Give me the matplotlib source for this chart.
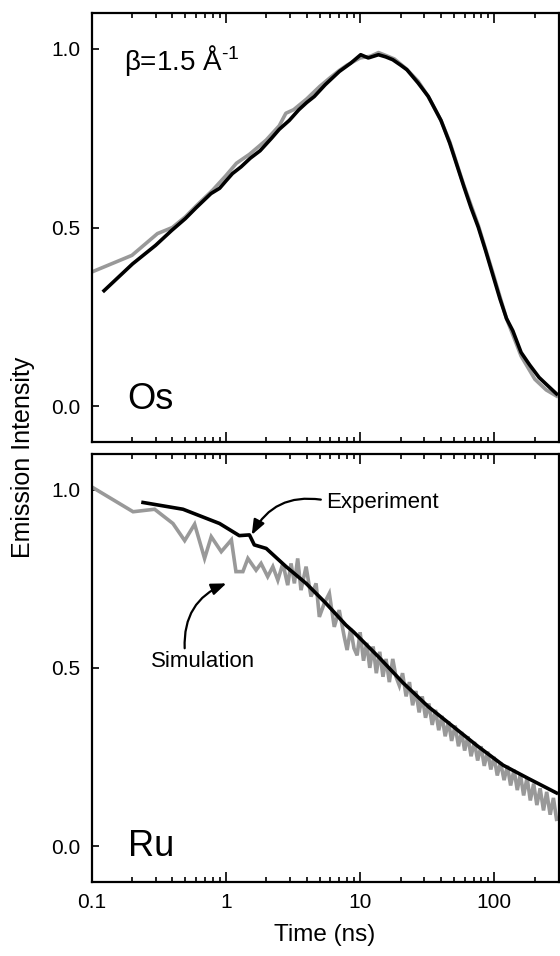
import matplotlib
matplotlib.use("Agg")
import matplotlib.pyplot as plt
from matplotlib.ticker import LogLocator, FixedLocator, FixedFormatter, NullFormatter

plt.rcParams['font.family'] = ['Liberation Sans', 'DejaVu Sans']
plt.rcParams['mathtext.fontset'] = 'custom'
plt.rcParams['mathtext.rm'] = 'Liberation Sans'
plt.rcParams['mathtext.default'] = 'regular'

# Os panel (top)
os_sim_t = [0.1, 0.2, 0.31, 0.4, 0.5, 0.6, 0.8, 1.0, 1.2, 1.5, 2.0, 2.5, 2.8, 3.2, 4.0,
            5.0, 6.0, 7.0, 8.0, 10, 12, 13.7, 16, 18, 22, 27, 32, 40, 46.5, 59, 76,
            97, 123, 158, 200, 243, 290]
os_sim_i = [0.375, 0.422, 0.483, 0.50, 0.53, 0.56, 0.605, 0.645, 0.68, 0.705, 0.745,
            0.785, 0.82, 0.83, 0.86, 0.895, 0.92, 0.94, 0.955, 0.975, 0.98, 0.99, 0.98,
            0.972, 0.945, 0.91, 0.868, 0.80, 0.74, 0.62, 0.505, 0.375, 0.245, 0.14,
            0.075, 0.045, 0.028]
os_exp_t = [0.124, 0.202, 0.30, 0.396, 0.5, 0.6, 0.775, 0.9, 1.0, 1.12, 1.3, 1.52, 1.8,
            2.19, 2.5, 2.97, 3.5, 4.0, 4.56, 5.5, 7.0, 8.5, 10.1, 11.5, 13.7, 15.5, 17.5,
            20, 22.3, 27, 32.2, 40, 46.5, 52, 59.3, 67, 75.8, 86, 96.8, 110, 123, 137,
            158, 183, 215, 243, 290]
os_exp_i = [0.323, 0.398, 0.45, 0.492, 0.525, 0.555, 0.595, 0.61, 0.63, 0.651, 0.67,
            0.694, 0.715, 0.75, 0.775, 0.80, 0.83, 0.85, 0.867, 0.90, 0.937, 0.96, 0.984,
            0.975, 0.984, 0.978, 0.970, 0.955, 0.942, 0.905, 0.867, 0.80, 0.736, 0.68,
            0.614, 0.555, 0.501, 0.435, 0.370, 0.30, 0.245, 0.211, 0.15, 0.115, 0.08,
            0.061, 0.034]

# Ru panel (bottom)
ru_sim_t = [0.1, 0.204, 0.295, 0.404, 0.494, 0.586, 0.695, 0.779, 0.925, 1.10, 1.19,
            1.34, 1.46, 1.68, 1.83, 2.05, 2.24, 2.44, 2.66, 2.89, 3.06, 3.24, 3.43, 3.63,
            3.96, 4.31, 4.70, 4.97, 5.41, 5.9, 6.42, 6.99, 7.62,
            8.0, 8.5, 9.0, 9.5, 10, 10.6, 11.2, 11.8, 12.5, 13.2, 14, 14.8, 15.6, 16.5,
            17.5, 18.5, 19.6, 20.7, 22, 23.3, 24.6, 26, 27.5, 29, 30.7, 32.5, 34.4, 36.4,
            38.5, 40.7, 43, 45.5, 48, 51, 54, 57, 60, 63.5, 67, 71, 75, 79.5, 84, 89, 94,
            99.5, 105, 111, 118, 125, 132, 140, 148, 156, 165, 175, 185, 196, 207, 219,
            232, 245, 260, 275, 290]
ru_sim_i = [1.008, 0.938, 0.945, 0.905, 0.857, 0.903, 0.807, 0.868, 0.826, 0.859, 0.770,
            0.770, 0.807, 0.774, 0.793, 0.756, 0.784, 0.746, 0.793, 0.732, 0.793, 0.737,
            0.807, 0.718, 0.784, 0.70, 0.737, 0.643, 0.681, 0.709, 0.615, 0.662, 0.587,
            0.550, 0.610, 0.555, 0.535, 0.600, 0.520, 0.570, 0.500, 0.560, 0.485,
            0.545, 0.475, 0.525, 0.460, 0.525, 0.475, 0.450, 0.485, 0.420, 0.460,
            0.395, 0.435, 0.375, 0.420, 0.360, 0.400, 0.340, 0.382, 0.325, 0.365,
            0.308, 0.350, 0.295, 0.338, 0.280, 0.320, 0.268, 0.308, 0.252, 0.292,
            0.240, 0.280, 0.225, 0.265, 0.215, 0.250, 0.198, 0.235, 0.185, 0.225,
            0.170, 0.214, 0.157, 0.202, 0.142, 0.192, 0.128, 0.175, 0.115, 0.162,
            0.100, 0.152, 0.088, 0.135, 0.075]
ru_exp_t = [0.242, 0.48, 0.898, 1.26, 1.50, 1.63, 2.0, 2.81, 3.96, 5.57, 7.84, 8.93,
            13.7, 21, 32.2, 49.4, 75.8, 116, 178, 290]
ru_exp_i = [0.964, 0.945, 0.905, 0.871, 0.873, 0.845, 0.835, 0.784, 0.737, 0.681, 0.62,
            0.601, 0.531, 0.457, 0.391, 0.335, 0.279, 0.227, 0.19, 0.149]

y_ticks = [0.0, 0.5, 1.0]
x_ticks = [0.1, 1, 10, 100]
x_labels = ['0.1', '1', '10', '100']

GRAY = '#999999'

fig = plt.figure(figsize=(5.6, 9.56), dpi=100)
ax1 = fig.add_axes([91.5 / 560, 1 - 441.7 / 956, 467 / 560, 428.4 / 956])
ax2 = fig.add_axes([91.5 / 560, 1 - 881.7 / 956, 467 / 560, 427.7 / 956])

ax1.plot(os_sim_t, os_sim_i, color=GRAY, lw=2.6)
ax1.plot(os_exp_t, os_exp_i, color='black', lw=2.6)
ax2.plot(ru_sim_t, ru_sim_i, color=GRAY, lw=2.6, solid_joinstyle='miter')
ax2.plot(ru_exp_t, ru_exp_i, color='black', lw=2.6)

for ax in (ax1, ax2):
    ax.set_xscale('log')
    ax.set_xlim(0.1, 300)
    ax.set_ylim(-0.1, 1.1)
    ax.xaxis.set_major_locator(FixedLocator(x_ticks))
    ax.xaxis.set_major_formatter(FixedFormatter(x_labels))
    ax.xaxis.set_minor_locator(LogLocator(base=10, subs=range(2, 10)))
    ax.xaxis.set_minor_formatter(NullFormatter())
    ax.set_yticks(y_ticks)
    ax.set_yticklabels(['%.1f' % v for v in y_ticks])
    ax.tick_params(axis='x', which='major', direction='in', top=True, bottom=True,
                   length=7.5, width=1.2, labelsize=15, pad=8)
    ax.tick_params(axis='x', which='minor', direction='in', top=True, bottom=True,
                   length=3.5, width=1.2)
    ax.tick_params(axis='y', which='major', direction='in', left=True, right=False,
                   length=5, width=1.2, labelsize=15, pad=8)
    for sp in ax.spines.values():
        sp.set_linewidth(1.6)

ax1.tick_params(axis='x', which='both', labelbottom=False)

ax1.text(0.186, -0.008, 'Os', fontsize=26, ha='left', va='baseline')
ax2.text(0.186, -0.028, 'Ru', fontsize=26, ha='left', va='baseline')
ax1.text(0.176, 0.94, r'β=1.5 Å$^{\text{-1}}$', fontsize=20, ha='left', va='baseline')

ax2.text(5.6, 0.948, 'Experiment', fontsize=16, ha='left', va='baseline')
ax2.text(0.279, 0.503, 'Simulation', fontsize=16, ha='left', va='baseline')

arrow_kw = dict(arrowstyle='-|>,head_length=0.9,head_width=0.35', color='black', lw=1.6,
                shrinkA=0, shrinkB=0)
ax2.annotate('', xy=(1.56, 0.873), xytext=(5.1, 0.972),
             arrowprops=dict(connectionstyle='arc3,rad=0.35', **arrow_kw))
ax2.annotate('', xy=(1.01, 0.737), xytext=(0.494, 0.555),
             arrowprops=dict(connectionstyle='arc3,rad=-0.35', **arrow_kw))

ax2.set_xlabel('Time (ns)', fontsize=17.5, labelpad=9)
fig.text(23 / 560, 1 - 457 / 956, 'Emission Intensity', rotation=90, fontsize=18,
         ha='center', va='center')

fig.savefig('out.png', dpi=100)
